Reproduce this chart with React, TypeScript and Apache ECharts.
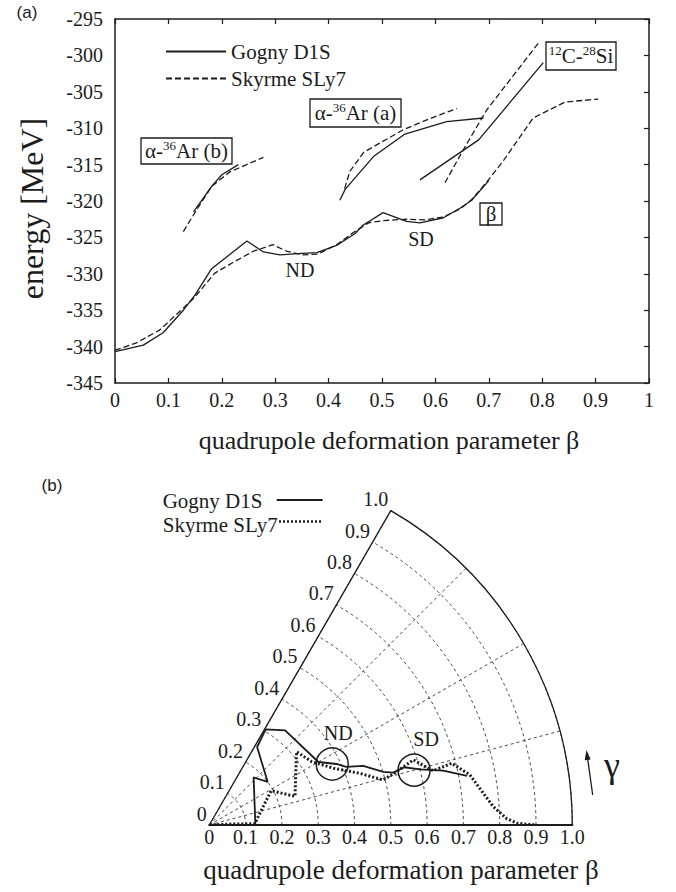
import React, { useEffect, useRef } from 'react';
import * as echarts from 'echarts';

const FONT = 'Liberation Serif, Times New Roman, serif';
const SANS = 'Liberation Sans, Arial, sans-serif';
const INK = '#1c1c1c';

// ---------- Panel (a): energy vs beta ----------
const betaTicksA = [0, 0.1, 0.2, 0.3, 0.4, 0.5, 0.6, 0.7, 0.8, 0.9, 1];
const energyTicks = [-345, -340, -335, -330, -325, -320, -315, -310, -305, -300, -295];

const gognyGround = [
  [0, -340.7], [0.053, -339.8], [0.09, -338.1], [0.128, -335.0], [0.15, -332.9], [0.181, -329.3],
  [0.247, -325.5], [0.278, -327.0], [0.309, -327.4], [0.35, -327.2], [0.378, -327.1], [0.415, -326.1],
  [0.449, -324.5], [0.465, -323.3], [0.502, -321.6], [0.546, -322.8], [0.571, -323.0], [0.615, -322.3],
  [0.646, -321.0], [0.668, -319.9], [0.70, -317.2],
];
const skyrmeGround = [
  [0, -340.5], [0.04, -339.5], [0.084, -337.7], [0.147, -333.4], [0.187, -329.9], [0.222, -328.4],
  [0.259, -326.9], [0.296, -326.0], [0.321, -326.9], [0.353, -327.4], [0.38, -327.3], [0.415, -326.0],
  [0.449, -324.2], [0.475, -323.0], [0.502, -322.7], [0.546, -322.5], [0.58, -322.6], [0.615, -322.2],
  [0.646, -321.1], [0.668, -319.8], [0.696, -317.4], [0.727, -314.5], [0.783, -308.6], [0.843, -306.4],
  [0.905, -306.0],
];
const gognyArB = [[0.147, -321.5], [0.181, -318.0], [0.2, -316.4], [0.231, -315.0]];
const skyrmeArB = [[0.128, -324.2], [0.153, -321.2], [0.181, -318.0], [0.215, -316.0], [0.278, -314.0]];
const gognyArA = [[0.421, -319.9], [0.431, -318.4], [0.484, -313.9], [0.543, -310.8], [0.621, -309.1], [0.69, -308.6]];
const skyrmeArA = [[0.43, -318.3], [0.44, -315.9], [0.466, -313.3], [0.54, -310.2], [0.596, -308.5], [0.64, -307.3]];
const gognyCSi = [[0.571, -317.1], [0.681, -311.6], [0.802, -301.0]];
const skyrmeCSi = [[0.618, -317.5], [0.652, -313.0], [0.696, -307.5], [0.793, -298.3]];

// ---------- Panel (b): beta-gamma paths, [beta, gamma(deg)] ----------
const radiusTicks = [0, 0.1, 0.2, 0.3, 0.4, 0.5, 0.6, 0.7, 0.8, 0.9, 1.0];
const gammaGrid = [0, 15, 30, 45, 60];
const gognyPath = [
  [0, 0], [0.127, 0], [0.179, 47], [0.2, 36.5], [0.252, 58.5], [0.306, 59.5], [0.334, 51.3],
  [0.347, 30], [0.389, 25.6], [0.41, 23], [0.454, 21], [0.501, 17], [0.527, 15.9], [0.56, 16.5],
  [0.6, 14.8], [0.662, 13.1], [0.723, 10.8],
];
const skyrmePath = [
  [0, 0], [0.06, 2.5], [0.125, 1.5], [0.16, 20], [0.195, 29], [0.249, 18.5], [0.288, 34], [0.314, 40],
  [0.332, 31.7], [0.376, 24.6], [0.439, 18.9], [0.495, 14.5], [0.537, 15.9], [0.59, 17.7], [0.635, 13.6],
  [0.689, 14.3], [0.731, 10.9], [0.757, 7], [0.784, 3.7], [0.82, 1.2], [0.85, 0.3], [0.9, 0],
];
const minima = [
  { name: 'ND', value: [0.378, 26.4], offset: [6, 0] },
  { name: 'SD', value: [0.584, 15.0], offset: [12, 0] },
];

const GOGNY = 'Gogny D1S';
const SKYRME = 'Skyrme SLy7';

const solidStyle = { color: INK, width: 1.3, type: 'solid' as const };
const dashStyle = { color: INK, width: 1.3, type: [6, 3] as any };

function lineA(name: string, data: number[][], dashed: boolean) {
  return {
    type: 'line', name, xAxisIndex: 0, yAxisIndex: 0, data, symbol: 'none', silent: true,
    lineStyle: dashed ? dashStyle : solidStyle, itemStyle: { color: INK },
  };
}

const tickLabel = { fontFamily: FONT, fontSize: 20, color: INK };
const fmtR = (v: number) => (v === 0 ? '0' : v.toFixed(1));

function boxedLabel(x: number, y: number, w: number, h: number, text: string) {
  return [
    { type: 'rect', shape: { x, y, width: w, height: h }, style: { fill: '#fff', stroke: INK, lineWidth: 1.3 }, z: 5 },
    {
      type: 'text', x: x + w / 2, y: y + h / 2, z: 6,
      style: {
        text, fill: INK, align: 'center', verticalAlign: 'middle', textAlign: 'center', textVerticalAlign: 'middle',
        rich: {
          m: { fontSize: 21, fontFamily: FONT, fill: INK, lineHeight: 24 },
          s: { fontSize: 13, fontFamily: FONT, fill: INK, verticalAlign: 'top', lineHeight: 13 },
        },
      },
    },
  ];
}

function plainText(x: number, y: number, text: string, fontSize: number, family = FONT, extra: any = {}) {
  return {
    type: 'text', x, y, z: 6, ...extra,
    style: { text, fill: INK, fontSize, fontFamily: family, align: 'center', verticalAlign: 'middle', textAlign: 'center', textVerticalAlign: 'middle' },
  };
}

const option: any = {
  animation: false,
  backgroundColor: '#fff',
  textStyle: { fontFamily: FONT },
  grid: [{ left: 115, top: 19, width: 534, height: 364 }],
  xAxis: [
    {
      gridIndex: 0, type: 'value', position: 'bottom', min: betaTicksA[0], max: betaTicksA[betaTicksA.length - 1], interval: 0.1,
      axisLine: { onZero: false, lineStyle: { color: INK, width: 1.5 } },
      axisTick: { inside: true, length: 5, lineStyle: { color: INK, width: 1.2 } },
      axisLabel: { ...tickLabel, margin: 7 }, splitLine: { show: false },
    },
    {
      gridIndex: 0, type: 'value', position: 'top', min: betaTicksA[0], max: betaTicksA[betaTicksA.length - 1], interval: 0.1,
      axisLine: { onZero: false, lineStyle: { color: INK, width: 1.5 } },
      axisTick: { inside: true, length: 5, lineStyle: { color: INK, width: 1.2 } },
      axisLabel: { show: false }, splitLine: { show: false },
    },
  ],
  yAxis: [
    {
      gridIndex: 0, type: 'value', position: 'left', min: energyTicks[0], max: energyTicks[energyTicks.length - 1], interval: 5,
      axisLine: { show: true, onZero: false, lineStyle: { color: INK, width: 1.5 } },
      axisTick: { show: false }, axisLabel: { ...tickLabel, margin: 12 }, splitLine: { show: false },
    },
    {
      gridIndex: 0, type: 'value', position: 'right', min: energyTicks[0], max: energyTicks[energyTicks.length - 1], interval: 5,
      axisLine: { show: true, onZero: false, lineStyle: { color: INK, width: 1.5 } },
      axisTick: { show: true, inside: true, length: 5, lineStyle: { color: INK, width: 1.2 } },
      axisLabel: { show: false }, splitLine: { show: false },
    },
  ],
  polar: [
    { center: [209.3, 825], radius: 363 },
    { center: [209.3, 825], radius: 363 },
  ],
  angleAxis: [
    {
      polarIndex: 0, type: 'value', min: gammaGrid[0], max: gammaGrid[gammaGrid.length - 1], interval: 15,
      startAngle: 0, endAngle: 60, clockwise: false,
      axisLine: { show: true, lineStyle: { color: INK, width: 1.3 } },
      axisTick: { show: false }, axisLabel: { show: false },
      splitLine: { show: true, lineStyle: { color: INK, width: 0.8, type: [3, 3] } },
    },
    {
      polarIndex: 1, type: 'value', min: 0, max: 60, startAngle: 60, endAngle: 0, clockwise: true, show: false,
    },
  ],
  radiusAxis: [
    {
      polarIndex: 0, type: 'value', min: radiusTicks[0], max: radiusTicks[radiusTicks.length - 1], interval: 0.1,
      axisLine: { show: true, lineStyle: { color: INK, width: 2.2 } },
      axisTick: { show: false },
      axisLabel: { ...tickLabel, margin: -22, formatter: fmtR },
      splitLine: { show: true, lineStyle: { color: INK, width: 0.8, type: [3, 3] } },
    },
    {
      polarIndex: 1, type: 'value', min: radiusTicks[0], max: radiusTicks[radiusTicks.length - 1], interval: 0.1,
      axisLine: { show: true, lineStyle: { color: INK, width: 1.3 } },
      axisTick: { show: false },
      axisLabel: { ...tickLabel, margin: 3, verticalAlign: 'bottom', formatter: fmtR },
      splitLine: { show: false },
    },
  ],
  legend: [
    {
      data: [GOGNY, SKYRME], orient: 'vertical', left: 165, top: 41, padding: 0,
      itemWidth: 60, itemHeight: 14, itemGap: 6, selectedMode: false,
      itemStyle: { opacity: 0 },
      textStyle: { fontFamily: FONT, fontSize: 21, color: INK },
    },
  ],
  series: [
    lineA(GOGNY, gognyGround, false),
    lineA(SKYRME, skyrmeGround, true),
    lineA(GOGNY, gognyArB, false),
    lineA(SKYRME, skyrmeArB, true),
    lineA(GOGNY, gognyArA, false),
    lineA(SKYRME, skyrmeArA, true),
    lineA(GOGNY, gognyCSi, false),
    lineA(SKYRME, skyrmeCSi, true),
    {
      type: 'line', name: 'Gogny D1S (β-γ)', coordinateSystem: 'polar', polarIndex: 0, data: gognyPath,
      symbol: 'none', silent: true, lineStyle: { color: INK, width: 1.8 }, z: 4,
    },
    {
      type: 'line', name: 'Skyrme SLy7 (β-γ)', coordinateSystem: 'polar', polarIndex: 0, data: skyrmePath,
      symbol: 'none', silent: true, lineStyle: { color: INK, width: 3, type: [2, 2] }, z: 4,
    },
    {
      type: 'scatter', name: 'minima', coordinateSystem: 'polar', polarIndex: 0, silent: true, z: 5,
      data: minima.map((m) => ({ name: m.name, value: m.value, label: { offset: m.offset } })),
      symbol: 'circle', symbolSize: 32,
      itemStyle: { color: 'rgba(0,0,0,0)', borderColor: INK, borderWidth: 1.5, opacity: 1 },
      label: { show: true, position: 'top', distance: 4, formatter: '{b}', fontFamily: FONT, fontSize: 20, color: INK },
    },
  ],
  graphic: [
    plainText(27, 12, '(a)', 17, SANS),
    plainText(52, 485, '(b)', 17, SANS),
    plainText(32, 208.5, 'energy [MeV]', 32, FONT, { rotation: Math.PI / 2 }),
    plainText(389, 440, 'quadrupole deformation parameter β', 26),
    plainText(401, 870, 'quadrupole deformation parameter β', 27),
    plainText(300, 270, 'ND', 20),
    plainText(421, 239, 'SD', 20),
    ...boxedLabel(141, 138, 91, 26, '{m|α-}{s|36}{m|Ar (b)}'),
    ...boxedLabel(310, 99, 91, 28, '{m|α-}{s|36}{m|Ar (a)}'),
    ...boxedLabel(546, 42, 70, 28, '{s|12}{m|C-}{s|28}{m|Si}'),
    ...boxedLabel(480, 203, 22, 22, '{m|β}'),
    // panel (b) key
    {
      type: 'text', x: 162.7, y: 501, z: 6,
      style: { text: GOGNY, fill: INK, fontSize: 21, fontFamily: FONT, align: 'left', verticalAlign: 'middle', textAlign: 'left', textVerticalAlign: 'middle' },
    },
    { type: 'line', z: 6, shape: { x1: 276.7, y1: 500, x2: 322.7, y2: 500 }, style: { stroke: INK, lineWidth: 1.8 } },
    {
      type: 'text', x: 162.7, y: 525, z: 6,
      style: { text: SKYRME, fill: INK, fontSize: 21, fontFamily: FONT, align: 'left', verticalAlign: 'middle', textAlign: 'left', textVerticalAlign: 'middle' },
    },
    { type: 'line', z: 6, shape: { x1: 279, y1: 521.5, x2: 322.7, y2: 521.5 }, style: { stroke: INK, lineWidth: 2.5, lineDash: [2, 2] } },
    // gamma arrow
    { type: 'line', z: 6, shape: { x1: 592.7, y1: 795, x2: 587.7, y2: 759 }, style: { stroke: INK, lineWidth: 1.3 } },
    { type: 'polygon', z: 6, shape: { points: [[586.5, 750], [590.7, 759.5], [584.7, 760.3]] }, style: { fill: INK } },
    plainText(612, 765, 'γ', 36),
  ],
};

export default function App() {
  const ref = useRef<HTMLDivElement>(null);
  useEffect(() => {
    if (!ref.current) return;
    const chart = echarts.init(ref.current, null, { renderer: 'svg' });
    chart.setOption(option);
    return () => chart.dispose();
  }, []);
  return (
    <div
      ref={ref}
      style={{ position: 'absolute', left: 0, top: 0, width: 676, height: 892, background: '#fff' }}
    />
  );
}
